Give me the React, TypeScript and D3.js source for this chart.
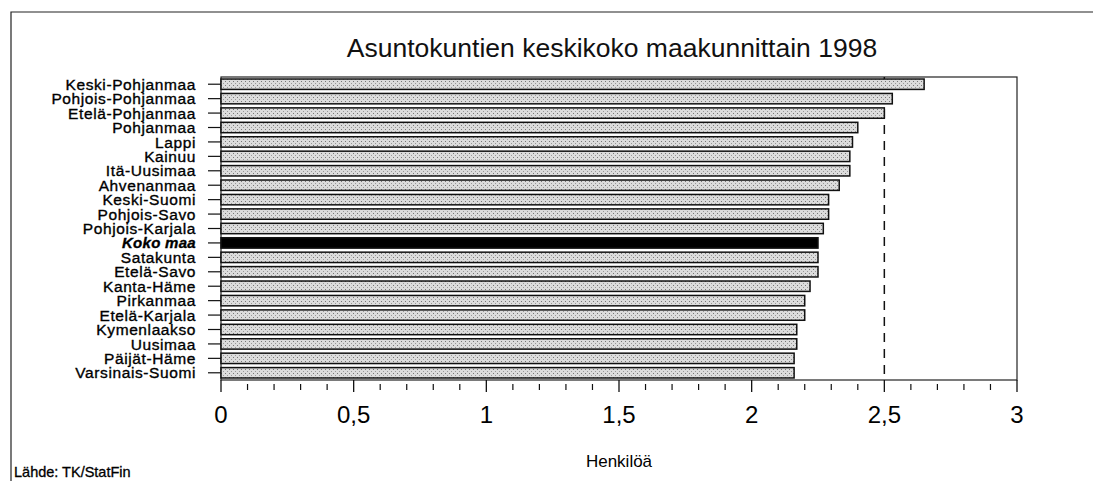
import React from "react";
import * as d3 from "d3";

const regions = [
  "Keski-Pohjanmaa",
  "Pohjois-Pohjanmaa",
  "Etelä-Pohjanmaa",
  "Pohjanmaa",
  "Lappi",
  "Kainuu",
  "Itä-Uusimaa",
  "Ahvenanmaa",
  "Keski-Suomi",
  "Pohjois-Savo",
  "Pohjois-Karjala",
  "Koko maa",
  "Satakunta",
  "Etelä-Savo",
  "Kanta-Häme",
  "Pirkanmaa",
  "Etelä-Karjala",
  "Kymenlaakso",
  "Uusimaa",
  "Päijät-Häme",
  "Varsinais-Suomi",
];

const avgSize = [
  2.65, 2.53, 2.5, 2.4, 2.38, 2.37, 2.37, 2.33, 2.29, 2.29, 2.27, 2.25, 2.25,
  2.25, 2.22, 2.2, 2.2, 2.17, 2.17, 2.16, 2.16,
];

const majorTicks = [0, 0.5, 1, 1.5, 2, 2.5, 3];
const tickLabels = ["0", "0,5", "1", "1,5", "2", "2,5", "3"];
const refLine = 2.5;
const totalLabel = "Koko maa";

const W = 1093;
const H = 481;
const margin = { top: 77, right: 76, bottom: 101, left: 221 };
const FONT = "'Liberation Sans', Arial, sans-serif";

const App: React.FC = () => {
  const width = W - margin.left - margin.right;
  const height = H - margin.top - margin.bottom;

  const xScale = d3.scaleLinear().domain([0, 3]).range([0, width]);
  const yScale = d3
    .scaleBand<string>()
    .domain(regions)
    .range([0, height])
    .paddingInner(0.28)
    .paddingOuter(0.14);

  // minor ticks every 0.1, skipping the major ones
  const minorTicks = d3
    .range(1, 30)
    .filter((i) => i % 5 !== 0)
    .map((i) => i / 10);

  return (
    <svg
      width={W}
      height={H}
      style={{ position: "absolute", left: 0, top: 0, background: "white" }}
    >
      <defs>
        <pattern id="dots" width="4" height="4" patternUnits="userSpaceOnUse">
          <rect width="4" height="4" fill="#dcdcdc" />
          <rect x="0" y="0" width="1" height="1" fill="#777" />
          <rect x="2" y="2" width="1" height="1" fill="#999" />
        </pattern>
      </defs>

      {/* outer frame */}
      <path d={`M11,${H} V12 H${W}`} fill="none" stroke="#222" strokeWidth={1.2} />

      <text
        x={612}
        y={57}
        textAnchor="middle"
        fontFamily={FONT}
        fontSize={26.5}
        fill="#111"
      >
        Asuntokuntien keskikoko maakunnittain 1998
      </text>

      <g transform={`translate(${margin.left},${margin.top})`}>
        {/* plot frame */}
        <rect
          x={0}
          y={0}
          width={width}
          height={height}
          fill="none"
          stroke="#222"
          strokeWidth={1.2}
        />

        {/* reference dashed line, behind bars */}
        <line
          x1={xScale(refLine)}
          x2={xScale(refLine)}
          y1={0}
          y2={height}
          stroke="#111"
          strokeWidth={1.5}
          strokeDasharray="9,7"
        />

        {/* bars */}
        {regions.map((r, i) => {
          const isTotal = r === totalLabel;
          return (
            <rect
              key={r}
              x={xScale(0)}
              y={yScale(r)!}
              width={xScale(avgSize[i]) - xScale(0)}
              height={yScale.bandwidth()}
              fill={isTotal ? "#000" : "url(#dots)"}
              stroke="#111"
              strokeWidth={1.5}
            />
          );
        })}

        {/* y axis ticks + labels */}
        {regions.map((r) => {
          const cy = yScale(r)! + yScale.bandwidth() / 2;
          const isTotal = r === totalLabel;
          return (
            <g key={r}>
              <line x1={-13} x2={0} y1={cy} y2={cy} stroke="#111" strokeWidth={1.2} />
              <text
                x={-25}
                y={cy}
                dy="0.36em"
                textAnchor="end"
                fontFamily={FONT}
                fontSize={isTotal ? 15 : 15.5}
                letterSpacing={isTotal ? 0.3 : 0.6}
                fontWeight={isTotal ? "bold" : "normal"}
                fontStyle={isTotal ? "italic" : "normal"}
                fill="#000"
                stroke="#000"
                strokeWidth={0.35}
              >
                {r}
              </text>
            </g>
          );
        })}

        {/* x axis */}
        <g transform={`translate(0,${height})`}>
          {majorTicks.map((t, i) => (
            <g key={t} transform={`translate(${xScale(t)},0)`}>
              <line y1={0} y2={12} stroke="#111" strokeWidth={1.3} />
              <text
                y={43}
                textAnchor="middle"
                fontFamily={FONT}
                fontSize={24}
                fill="#000"
              >
                {tickLabels[i]}
              </text>
            </g>
          ))}
          {minorTicks.map((t) => (
            <line
              key={t}
              x1={xScale(t)}
              x2={xScale(t)}
              y1={4}
              y2={10}
              stroke="#111"
              strokeWidth={1.2}
            />
          ))}
          <text
            x={width / 2}
            y={87}
            textAnchor="middle"
            fontFamily={FONT}
            fontSize={17}
            fill="#000"
          >
            Henkilöä
          </text>
        </g>
      </g>

      <text
        x={14}
        y={477}
        fontFamily={FONT}
        fontSize={14.5}
        fill="#000"
        stroke="#000"
        strokeWidth={0.3}
      >
        Lähde: TK/StatFin
      </text>
    </svg>
  );
};

export default App;
